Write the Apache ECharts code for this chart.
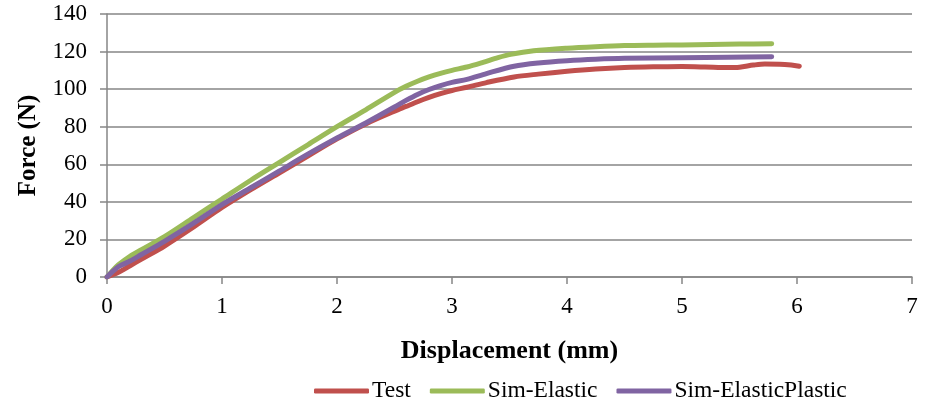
<!DOCTYPE html>
<html>
<head>
<meta charset="utf-8">
<script src="https://cdn.jsdelivr.net/npm/echarts@6/dist/echarts.min.js"></script>
<style>
html,body{margin:0;padding:0;background:#fff;}
#chart{width:932px;height:403px;}
</style>
</head>
<body>
<div id="chart"></div>
<script>
var seriesNames = ['Test', 'Sim-Elastic', 'Sim-ElasticPlastic'];
var xTicks = [0, 1, 2, 3, 4, 5, 6, 7];
var yTicks = [0, 20, 40, 60, 80, 100, 120, 140];

var testData = [[0,0],[0.1,2.5],[0.2,6],[0.3,9.5],[0.5,16.5],[0.75,26.5],[1.0,37],[1.25,46.5],[1.5,55.5],[1.75,64.5],[2.0,73.5],[2.25,81.5],[2.5,88.3],[2.6,90.8],[2.7,93.3],[2.8,95.6],[2.9,97.6],[3.0,99.3],[3.13,101],[3.3,103.5],[3.54,106.5],[3.75,108],[4.0,109.5],[4.25,110.7],[4.5,111.5],[4.75,111.9],[5.0,112],[5.2,111.8],[5.4,111.5],[5.5,111.7],[5.62,112.8],[5.72,113.4],[5.85,113.3],[5.95,112.8],[6.02,112.2]];
var simElastic = [[0,0],[0.05,3.5],[0.1,6.5],[0.2,11],[0.3,14.5],[0.5,21.5],[0.75,31.5],[1.0,41.5],[1.25,51.5],[1.5,61],[1.75,70.5],[2.0,80],[2.25,89],[2.5,98.3],[2.6,101.5],[2.7,104.2],[2.8,106.5],[2.9,108.4],[3.0,110],[3.13,111.8],[3.27,114.3],[3.4,116.8],[3.51,118.5],[3.71,120.4],[4.0,121.8],[4.25,122.6],[4.5,123.2],[4.75,123.4],[5.0,123.5],[5.25,123.8],[5.5,124],[5.78,124.2]];
var simElasticPlastic = [[0,0],[0.05,3],[0.1,5.5],[0.2,8.5],[0.3,12],[0.5,19],[0.75,28.5],[1.0,38.5],[1.25,47.5],[1.5,56.5],[1.75,65.5],[2.0,74],[2.25,82],[2.5,90.5],[2.6,94],[2.7,97.2],[2.8,99.8],[2.9,101.9],[3.0,103.6],[3.13,105.2],[3.3,108.3],[3.54,112.2],[3.75,113.9],[4.0,115.1],[4.25,115.9],[4.5,116.4],[5.0,116.7],[5.4,117],[5.78,117.2]];

var colors = ['#C0504D', '#9BBB59', '#8064A2'];
var dataSets = [testData, simElastic, simElasticPlastic];
var font = '"Liberation Serif","Times New Roman",serif';

var chart = echarts.init(document.getElementById('chart'), null, {renderer: 'canvas'});
var option = {
  animation: false,
  color: colors,
  grid: {left: 107, right: 20, top: 14, bottom: 126, containLabel: false},
  legend: {
    data: seriesNames,
    left: 309,
    top: 374,
    itemWidth: 55,
    itemHeight: 5,
    itemGap: 19,
    icon: 'roundRect',
    textStyle: {fontFamily: font, fontSize: 23.5, color: '#000', padding: [0, 0, 0, -2]}
  },
  xAxis: {
    type: 'value',
    min: xTicks[0],
    max: xTicks[xTicks.length - 1],
    interval: 1,
    name: 'Displacement (mm)',
    nameLocation: 'middle',
    nameGap: 61,
    nameTextStyle: {fontFamily: font, fontSize: 26, fontWeight: 'bold', color: '#000'},
    axisLine: {show: true, lineStyle: {color: '#868686', width: 1.5}},
    axisTick: {show: true, length: 7, lineStyle: {color: '#868686', width: 1.5}},
    axisLabel: {fontFamily: font, fontSize: 23, color: '#000', margin: 18},
    splitLine: {show: false}
  },
  yAxis: {
    type: 'value',
    min: yTicks[0],
    max: yTicks[yTicks.length - 1],
    interval: 20,
    name: 'Force (N)',
    nameLocation: 'middle',
    nameGap: 66,
    nameTextStyle: {fontFamily: font, fontSize: 25, fontWeight: 'bold', color: '#000'},
    axisLine: {show: true, lineStyle: {color: '#868686', width: 1.5}},
    axisTick: {show: true, length: 7, lineStyle: {color: '#868686', width: 1.5}},
    axisLabel: {fontFamily: font, fontSize: 23, color: '#000', margin: 20},
    splitLine: {show: true, lineStyle: {color: '#868686', width: 1.5}}
  },
  series: seriesNames.map(function (n, i) {
    return {
      name: n,
      type: 'line',
      data: dataSets[i],
      showSymbol: false,
      smooth: 0.3,
      lineStyle: {width: 5, color: colors[i], cap: 'round', join: 'round'},
      itemStyle: {color: colors[i]}
    };
  })
};
chart.setOption(option);
</script>
</body>
</html>
